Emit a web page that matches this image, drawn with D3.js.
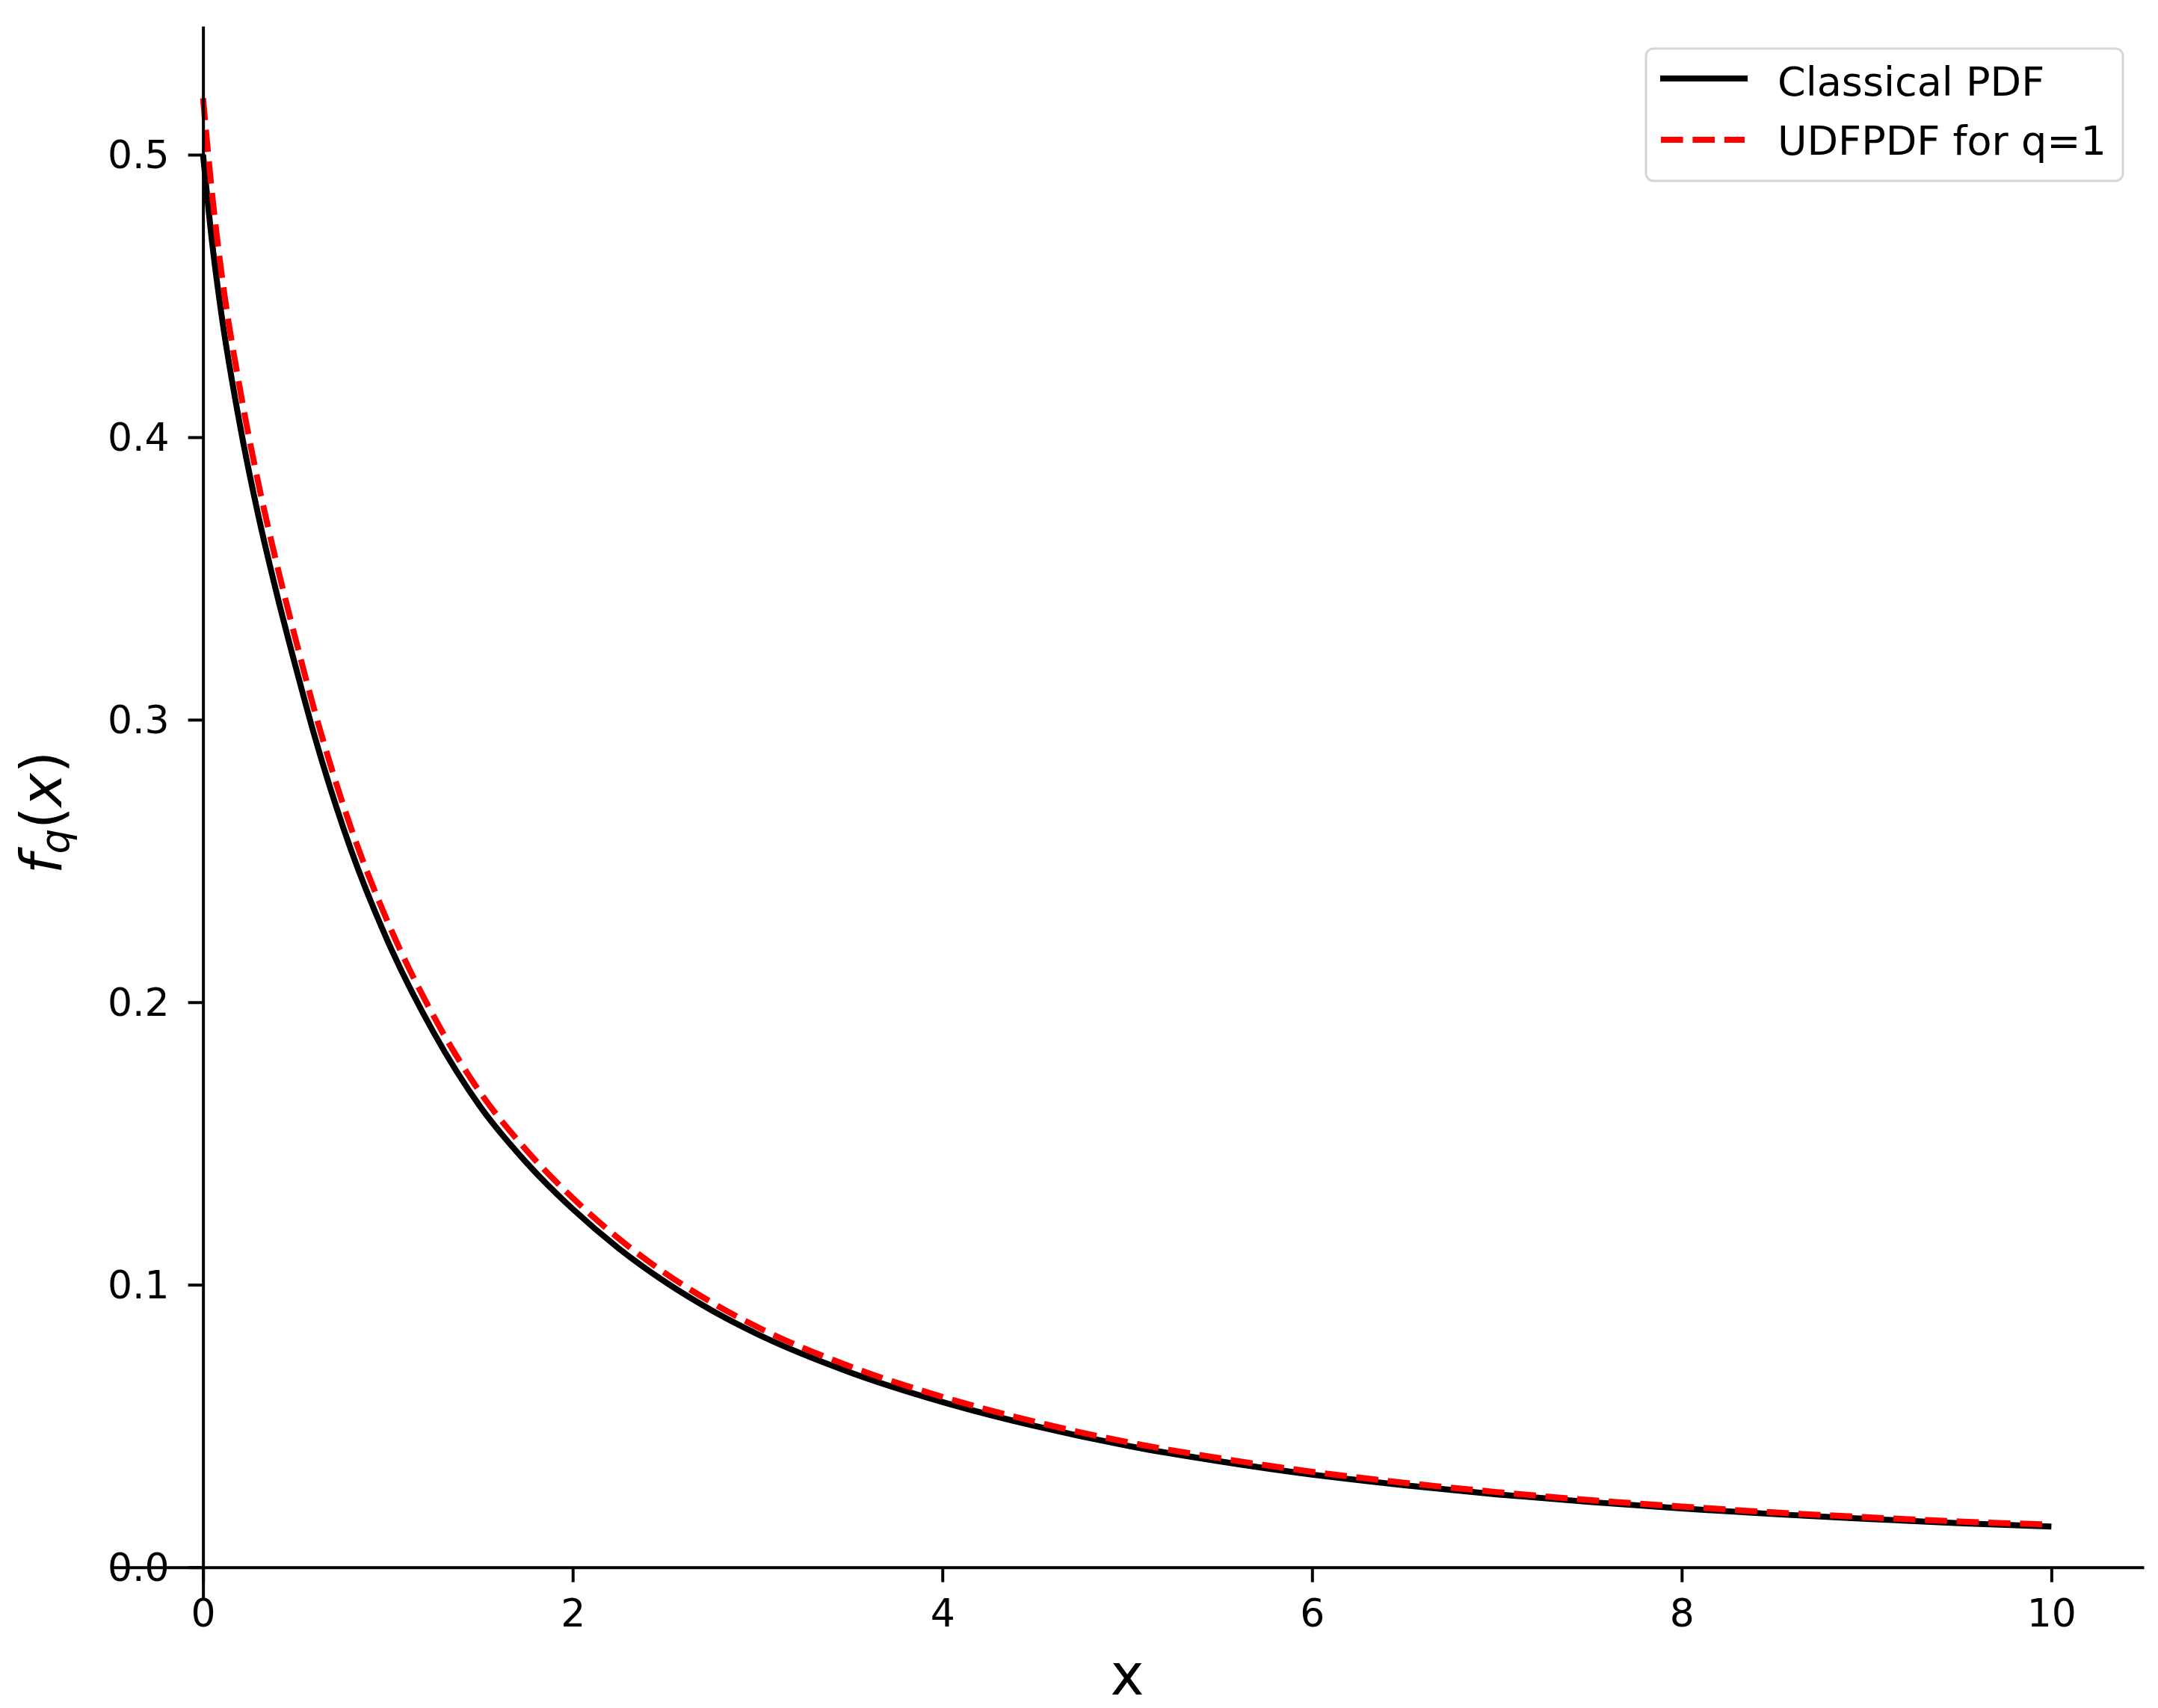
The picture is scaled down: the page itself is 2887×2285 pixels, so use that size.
<!DOCTYPE html>
<html>
<head>
<meta charset="utf-8">
<script src="https://cdn.jsdelivr.net/npm/d3@7"></script>
<style>
  html, body { margin: 0; padding: 0; background: #ffffff; }
  svg { display: block; }
  text { font-family: "DejaVu Sans", sans-serif; }
</style>
</head>
<body>
<svg id="chart" width="2887" height="2285"></svg>
<script>
// ---- data ----
const xValues = [0, 0.05, 0.1, 0.2, 0.3, 0.4, 0.5, 0.6, 0.8, 1.0, 1.25, 1.5, 1.75, 2.0, 2.25, 2.5, 2.75, 3.0,
                 3.5, 4.0, 4.5, 5.0, 5.5, 6.0, 6.5, 7.0, 7.5, 8.0, 8.5, 9.0, 9.5, 10.0];
const classicalPDF = [0.500, 0.4684, 0.4433, 0.4042, 0.3720, 0.3443, 0.3190, 0.2950, 0.2540, 0.2215, 0.1890,
                      0.1630, 0.1432, 0.1268, 0.1128, 0.1010, 0.0910, 0.0825, 0.0690, 0.0585, 0.0500, 0.0430,
                      0.0375, 0.0328, 0.0290, 0.0258, 0.0231, 0.0208, 0.0188, 0.0171, 0.0156, 0.0144];
const udfPDF = [0.520, 0.4855, 0.4580, 0.4170, 0.3835, 0.3548, 0.3287, 0.3040, 0.2618, 0.2283, 0.1948,
                0.1680, 0.1476, 0.1307, 0.1163, 0.1041, 0.0938, 0.0850, 0.0711, 0.0603, 0.0515, 0.0443,
                0.0386, 0.0338, 0.0299, 0.0266, 0.0238, 0.0215, 0.0194, 0.0177, 0.0162, 0.0151];
const xTicks = [0, 2, 4, 6, 8, 10];
const yTicks = [0.0, 0.1, 0.2, 0.3, 0.4, 0.5];
const seriesNames = ["Classical PDF", "UDFPDF for q=1"];
const xDomain = [-0.5, 10.5];
const yDomain = [-0.0112, 0.5455];

// ---- layout ----
const svg = d3.select("#chart");
svg.append("rect").attr("width", 2887).attr("height", 2285).attr("fill", "#ffffff");

const x = d3.scaleLinear().domain(xDomain).range([148, 2868]);
const y = d3.scaleLinear().domain(yDomain).range([2139, 35]);

const tickFont = 52;
const legendFont = 54;
const lineW = 8;
const spineW = 4;

// curves
const line = d3.line().x((d, i) => x(xValues[i])).y(d => y(d)).curve(d3.curveMonotoneX);

svg.append("path").datum(classicalPDF)
  .attr("d", line).attr("fill", "none").attr("stroke", "#000000")
  .attr("stroke-width", lineW).attr("stroke-linejoin", "round").attr("stroke-linecap", "butt");

svg.append("path").datum(udfPDF)
  .attr("d", line).attr("fill", "none").attr("stroke", "#ff0000")
  .attr("stroke-width", lineW).attr("stroke-dasharray", "29.6,12.8")
  .attr("stroke-linejoin", "round").attr("stroke-linecap", "butt");

// y axis (spine at x = 0)
const yAxis = svg.append("g")
  .attr("transform", `translate(${x(0)},0)`)
  .call(d3.axisLeft(y).tickValues(yTicks).tickFormat(d3.format(".1f"))
        .tickSize(20).tickSizeOuter(0).tickPadding(25));
yAxis.selectAll("text").attr("font-size", tickFont).attr("fill", "#000")
  .attr("font-family", "DejaVu Sans").attr("dy", "0.335em");
yAxis.selectAll(".tick line").attr("stroke", "#000").attr("stroke-width", spineW);
yAxis.select(".domain").attr("stroke", "#000").attr("stroke-width", spineW);

// x axis (spine at y = 0)
const xAxis = svg.append("g")
  .attr("transform", `translate(0,${y(0)})`)
  .call(d3.axisBottom(x).tickValues(xTicks).tickFormat(d3.format("d"))
        .tickSize(20).tickSizeOuter(0).tickPadding(22));
xAxis.selectAll("text").attr("font-size", tickFont).attr("fill", "#000")
  .attr("font-family", "DejaVu Sans");
xAxis.selectAll(".tick line").attr("stroke", "#000").attr("stroke-width", spineW);
xAxis.select(".domain").attr("stroke", "#000").attr("stroke-width", spineW);

// axis labels
svg.append("text")
  .attr("x", (x.range()[0] + x.range()[1]) / 2).attr("y", 2267)
  .attr("text-anchor", "middle").attr("font-size", 76).attr("fill", "#000")
  .text("x");

const yl = svg.append("text")
  .attr("transform", `translate(82,${(y.range()[0] + y.range()[1]) / 2}) rotate(-90)`)
  .attr("text-anchor", "middle").attr("font-size", 76).attr("fill", "#000");
yl.append("tspan").attr("font-style", "italic").text("f");
yl.append("tspan").attr("font-style", "italic").attr("font-size", 53).attr("dy", 10).text("q");
yl.append("tspan").attr("dy", -10).text("(");
yl.append("tspan").attr("font-style", "italic").text("x");
yl.append("tspan").text(")");

// legend
const lg = svg.append("g");
lg.append("rect").attr("x", 2202).attr("y", 65).attr("width", 638).attr("height", 177)
  .attr("rx", 10).attr("ry", 10).attr("fill", "#ffffff").attr("fill-opacity", 0.8)
  .attr("stroke", "#d6d6d6").attr("stroke-width", 3);
lg.append("line").attr("x1", 2221).attr("x2", 2338).attr("y1", 105).attr("y2", 105)
  .attr("stroke", "#000").attr("stroke-width", lineW);
lg.append("line").attr("x1", 2222).attr("x2", 2334).attr("y1", 187).attr("y2", 187)
  .attr("stroke", "#ff0000").attr("stroke-width", lineW).attr("stroke-dasharray", "29.6,12.8");
lg.append("text").attr("x", 2378).attr("y", 128).attr("font-size", legendFont).attr("fill", "#000")
  .text(seriesNames[0]);
lg.append("text").attr("x", 2378).attr("y", 207).attr("font-size", legendFont).attr("fill", "#000")
  .text(seriesNames[1]);
</script>
</body>
</html>
